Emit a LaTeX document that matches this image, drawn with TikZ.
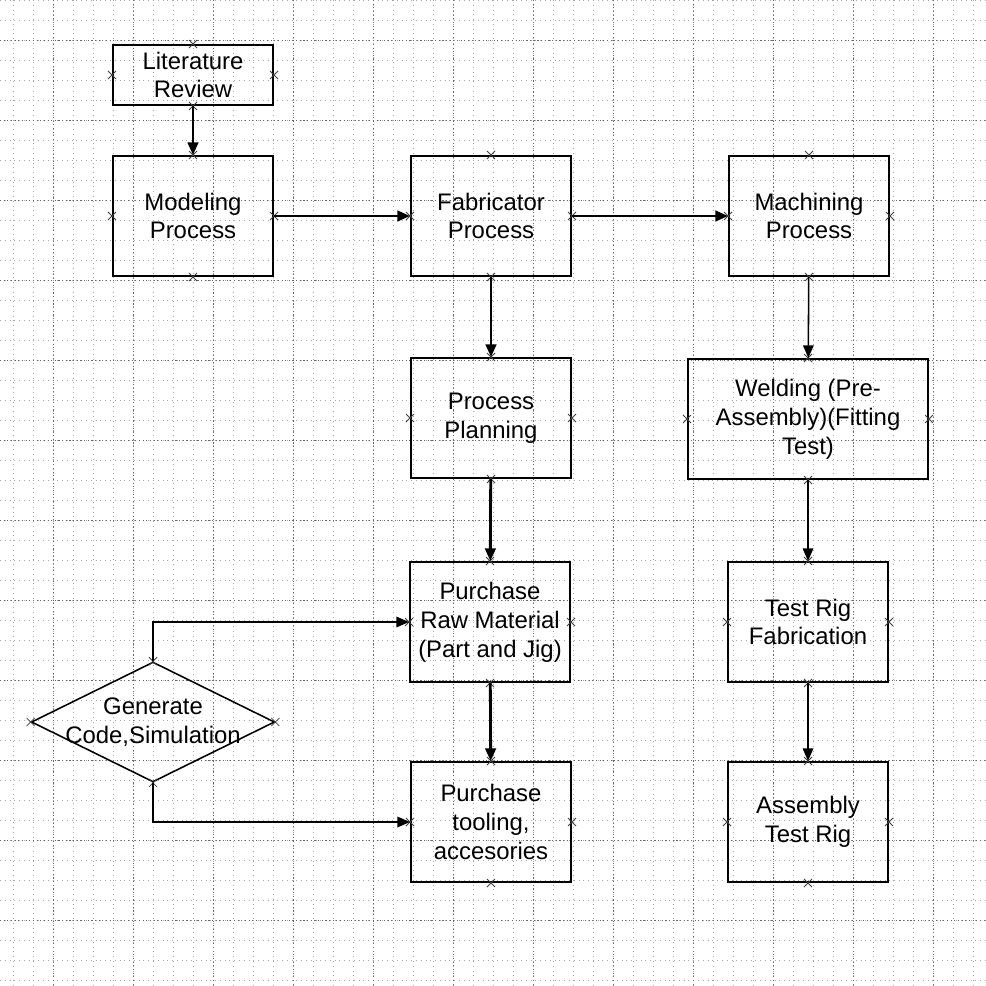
\documentclass[tikz,border=0pt]{standalone}
\usepackage{fontspec}
\setmainfont{Liberation Sans}
\usetikzlibrary{arrows.meta,shapes.geometric}
\begin{document}
\begin{tikzpicture}[x=0.025cm,y=-0.025cm,
  gridminor/.style={black!35, line width=0.45pt, dash pattern=on 0.6pt off 2.8pt},
  gridmajor/.style={black!60, line width=0.5pt, dash pattern=on 0.8pt off 1.8pt},
  stepbox/.style={draw=black, line width=1.4pt, minimum width=4cm, minimum height=3cm,
    inner sep=2pt, align=center, font=\fontsize{17}{20.5}\selectfont},
  widebox/.style={stepbox, minimum width=6cm},
  shortbox/.style={stepbox, minimum height=1.5cm},
  decision/.style={draw=black, line width=1.1pt, diamond, inner sep=0pt,
    minimum width=6.08cm, minimum height=3cm},
  decisiontext/.style={align=center, inner sep=0pt, font=\fontsize{17}{20.5}\selectfont},
  flow/.style={line width=2pt, -{Triangle[length=9pt,width=7.5pt]}},
  thinflow/.style={line width=1.1pt, -{Triangle[length=9pt,width=7.5pt]}},
  pinmark/.style={black!75, line width=0.55pt}]

\useasboundingbox (0,0) rectangle (986,986);
\fill[white] (0,0) rectangle (986,986);

% background drawing grid
\foreach \x in {13,33,...,993} \draw[gridminor] (\x,0) -- (\x,986);
\foreach \y in {0,20,...,986} \draw[gridminor] (0,\y) -- (986,\y);
\foreach \x in {53,133,...,993} \draw[gridmajor] (\x,0) -- (\x,986);
\foreach \y in {40,120,...,986} \draw[gridmajor] (0,\y) -- (986,\y);

% process steps
\node[shortbox] (lit)   at (193,75)  {Literature\\Review};
\node[stepbox]  (model) at (193,216) {Modeling\\Process};
\node[stepbox]  (fab)   at (491,216) {Fabricator\\Process};
\node[stepbox]  (mach)  at (809,216) {Machining\\Process};
\node[stepbox]  (plan)  at (491,418) {Process\\Planning};
\node[stepbox]  (raw)   at (490,622) {Purchase\\Raw Material\\(Part and Jig)};
\node[stepbox]  (tool)  at (491,822) {Purchase\\tooling,\\accesories};
\node[widebox]  (weld)  at (808,419) {Welding (Pre-\\Assembly)(Fitting\\Test)};
\node[stepbox]  (trig)  at (808,622) {Test Rig\\Fabrication};
\node[stepbox]  (asm)   at (808,822) {Assembly\\Test Rig};
\node[decision] (dia)   at (153,722) {};
\node[decisiontext] (diatext) at (dia.center) {Generate\\Code,Simulation};

% connection points on every shape
\foreach \n in {lit,model,fab,mach,plan,raw,tool,weld,trig,asm,dia}
  \foreach \a in {north,south,east,west}
    \draw[pinmark] (\n.\a) +(-4,-4) -- +(4,4) +(-4,4) -- +(4,-4);

% connectors
\draw[flow] (lit) -- (model);
\draw[flow] (model) -- (fab);
\draw[flow] (fab) -- (mach);
\draw[flow] (fab) -- (plan);
\draw[flow] (plan) -- (raw);
\draw[flow] (raw) -- (tool);
\draw[thinflow] (mach) -- (weld);
\draw[thinflow] (weld) -- (trig);
\draw[thinflow] (trig) -- (asm);
\draw[thinflow] (dia.north) |- (raw.west);
\draw[thinflow] (dia.south) |- (tool.west);
\end{tikzpicture}
\end{document}
